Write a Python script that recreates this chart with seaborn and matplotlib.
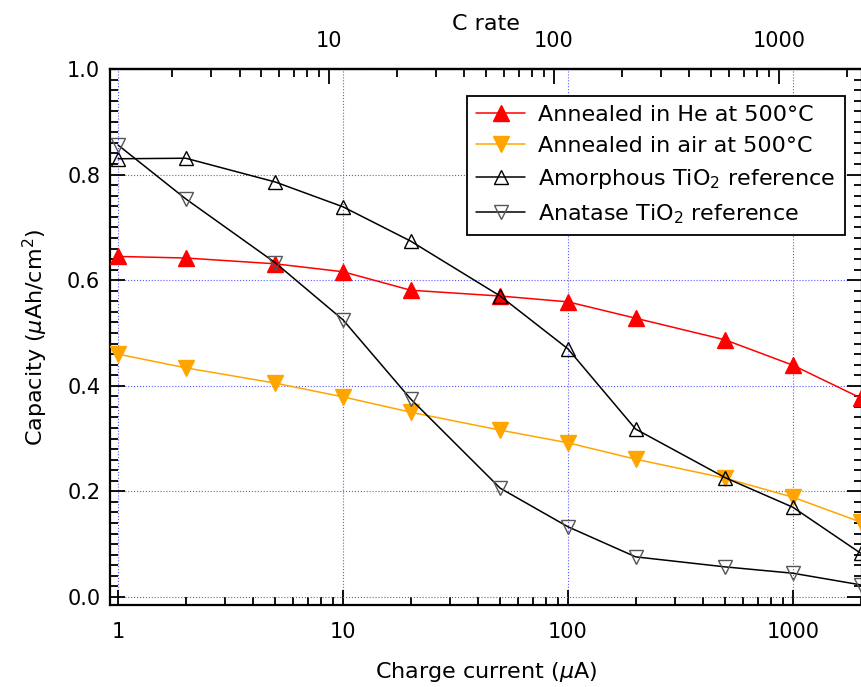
import numpy as np
import pandas as pd
import matplotlib
matplotlib.use("Agg")
import matplotlib.pyplot as plt
import matplotlib.ticker as mticker
import seaborn as sns

# charge current (uA) and capacity (uAh/cm^2)
current = [1, 2, 5, 10, 20, 50, 100, 200, 500, 1000, 2000]
cap_he = [0.645, 0.642, 0.631, 0.616, 0.581, 0.570, 0.559, 0.528, 0.487, 0.439, 0.377]
cap_air = [0.460, 0.434, 0.405, 0.379, 0.350, 0.316, 0.292, 0.261, 0.225, 0.189, 0.142]
cap_amorph = [0.830, 0.831, 0.786, 0.739, 0.674, 0.570, 0.470, 0.318, 0.226, 0.170, 0.083]
cap_anatase = [0.856, 0.754, 0.633, 0.525, 0.375, 0.206, 0.133, 0.076, 0.057, 0.045, 0.023]

labels = ["Annealed in He at 500°C", "Annealed in air at 500°C",
          "Amorphous TiO$_2$ reference", "Anatase TiO$_2$ reference"]

one_c = 0.867  # uA corresponding to 1C

sns.set_style("ticks")
plt.rcParams['font.family'] = ['DejaVu Sans']
plt.rcParams['mathtext.fontset'] = 'dejavusans'
for k in ['text.color', 'axes.labelcolor', 'xtick.color', 'ytick.color']:
    plt.rcParams[k] = 'black'

fig = plt.figure(figsize=(8.62, 6.87), dpi=100)
ax = fig.add_axes([110 / 862, 1 - 605 / 687, 752 / 862, 536 / 687])

styles = [
    dict(color='red', marker='^', mfc='red', mec='red', ms=12),
    dict(color='orange', marker='v', mfc='orange', mec='orange', ms=12),
    dict(color='black', marker='^', mfc='none', mec='black', ms=10),
    dict(color='black', marker='v', mfc='none', mec='#555555', ms=10),
]
series = [cap_he, cap_air, cap_amorph, cap_anatase]

for vals, lab, st in zip(series, labels, styles):
    df = pd.DataFrame({'current': current, 'capacity': vals})
    sns.lineplot(data=df, x='current', y='capacity', ax=ax, label=lab,
                 color=st['color'], marker=st['marker'], markersize=st['ms'],
                 markerfacecolor=st['mfc'], markeredgecolor=st['mec'],
                 markeredgewidth=1.0, linewidth=1.1, clip_on=False, zorder=3)

ax.set_xscale('log')
ax.set_xlim(0.921, 2030)
ax.set_ylim(-0.0152, 1.0)

ax.xaxis.set_major_locator(mticker.FixedLocator([1, 10, 100, 1000]))
ax.xaxis.set_major_formatter(mticker.FuncFormatter(lambda v, p: f"{v:g}"))
ax.xaxis.set_minor_formatter(mticker.NullFormatter())
ax.yaxis.set_major_locator(mticker.MultipleLocator(0.2))
ax.yaxis.set_minor_locator(mticker.MultipleLocator(0.02))
ax.yaxis.set_major_formatter(mticker.FormatStrFormatter('%.1f'))

ax.grid(True, which='major', color='#5a5aff', linestyle=':', linewidth=0.8)
ax.tick_params(which='both', direction='in', top=False, right=True, width=1.3)
ax.tick_params(which='major', length=11, labelsize=15)
ax.tick_params(axis='x', which='major', pad=12)
ax.tick_params(axis='y', which='major', pad=7)
ax.tick_params(which='minor', length=6)
for sp in ax.spines.values():
    sp.set_linewidth(1.6)
    sp.set_color('black')

ax.set_xlabel('Charge current ($\\mu$A)', fontsize=16, labelpad=13)
ax.set_ylabel('Capacity ($\\mu$Ah/cm$^2$)', fontsize=16, labelpad=12)

top = ax.secondary_xaxis('top', functions=(lambda x: x / one_c, lambda c: c * one_c))
top.xaxis.set_major_locator(mticker.FixedLocator([10, 100, 1000]))
top.xaxis.set_major_formatter(mticker.FuncFormatter(lambda v, p: f"{v:g}"))
top.xaxis.set_minor_formatter(mticker.NullFormatter())
top.tick_params(which='both', direction='in', width=1.3)
top.tick_params(which='major', length=11, labelsize=15, pad=13)
top.tick_params(which='minor', length=6)
top.set_xlabel('C rate', fontsize=16, labelpad=1)
top.spines['top'].set_linewidth(1.6)

leg = ax.legend(loc='upper right', bbox_to_anchor=(0.977, 0.95), borderaxespad=0,
                fontsize=16, frameon=True, fancybox=False, edgecolor='black',
                framealpha=1, handlelength=2.2, handletextpad=0.6,
                labelspacing=0.5, borderpad=0.4)
leg.get_frame().set_linewidth(1.3)

fig.savefig('out.png', dpi=100)
